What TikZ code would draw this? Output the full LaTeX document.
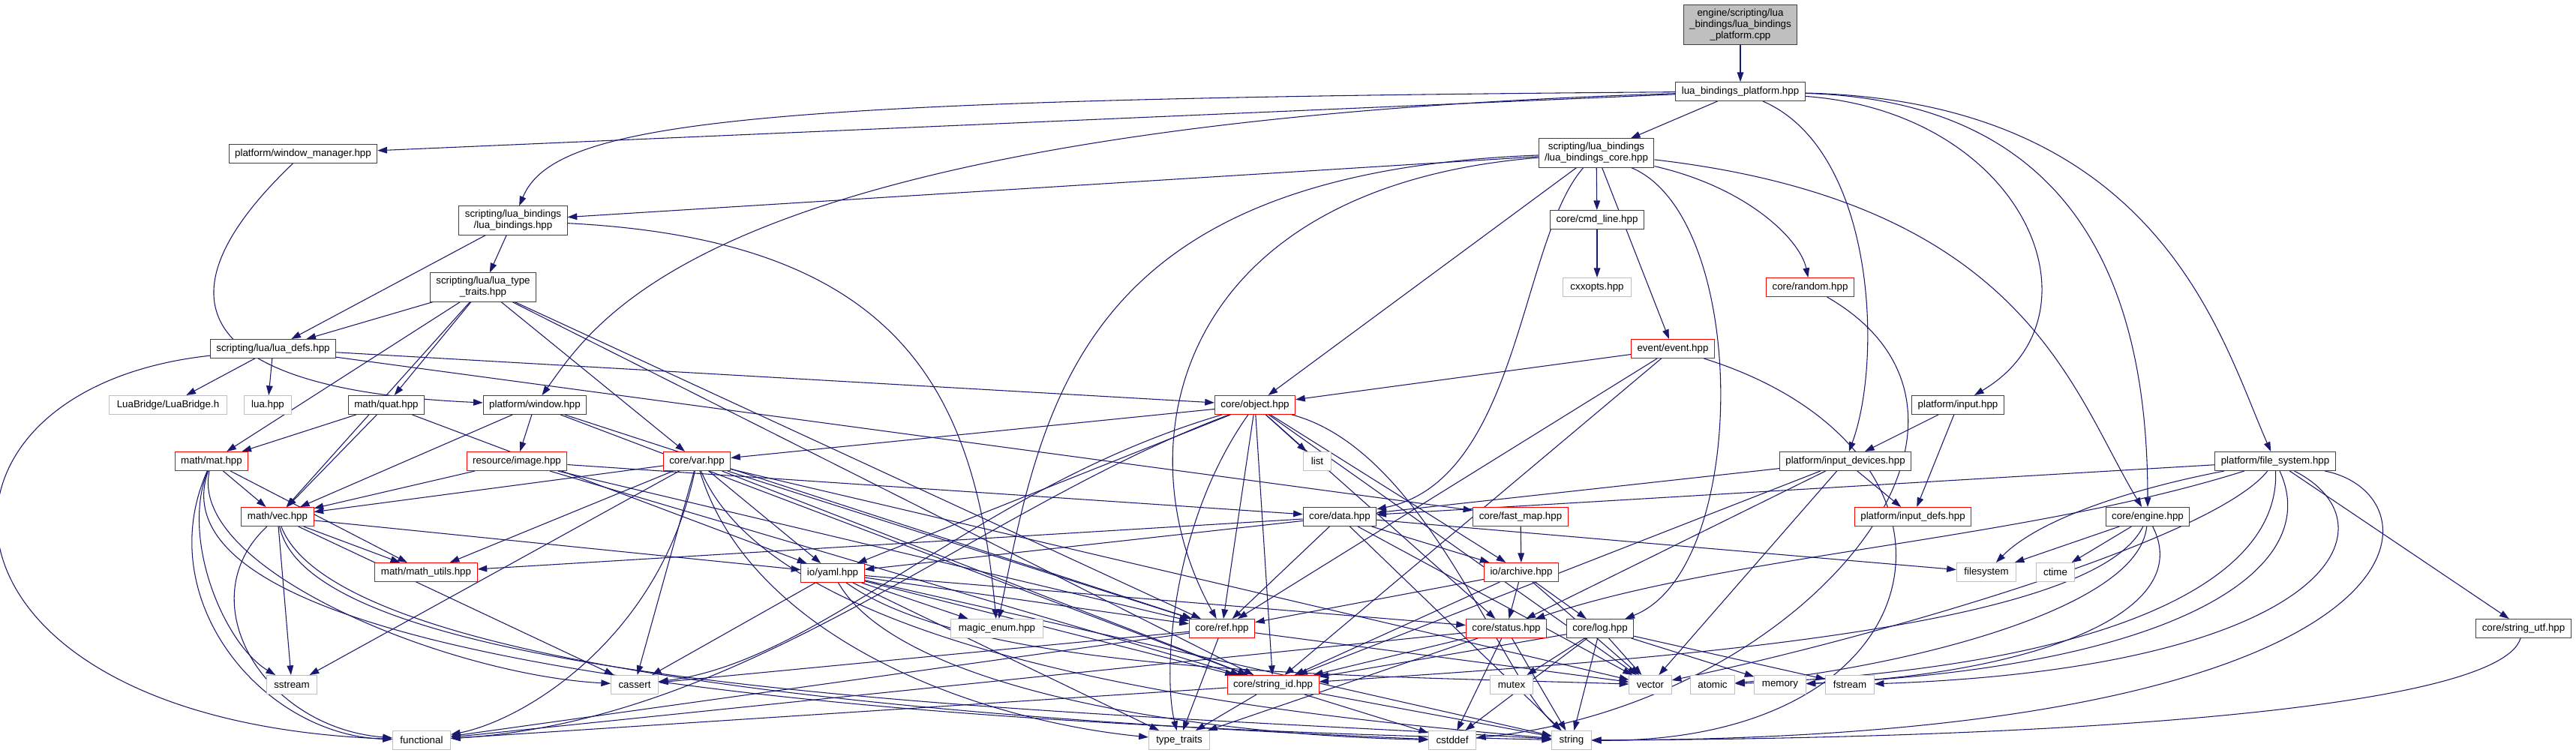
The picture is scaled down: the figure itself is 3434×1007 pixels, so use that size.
\documentclass[tikz,border=0pt]{standalone}
\usepackage{fontspec}
\setmainfont{Liberation Sans}
\usetikzlibrary{arrows.meta}
\definecolor{edgeblue}{HTML}{191970}
\definecolor{boxgrey}{HTML}{BFBFBF}
\definecolor{boxdark}{HTML}{404040}
\pgfdeclarelayer{bg}
\pgfsetlayers{bg,main}

\begin{document}
\begin{tikzpicture}[x=0.75pt,y=-0.75pt,
  hdr/.style={draw=boxdark,fill=white,line width=0.75pt,inner xsep=6pt,inner ysep=4pt,
    minimum height=18.75pt,font=\fontsize{10}{11.3}\selectfont,align=center},
  hdrred/.style={hdr,draw=red},
  hdrsys/.style={hdr,draw=boxgrey,inner xsep=7.5pt},
  hdrmain/.style={hdr,fill=boxgrey},
  inc/.style={draw=edgeblue,line width=0.8pt,-{Triangle[length=9.5pt,width=6.5pt]}}]
\useasboundingbox (0,0) rectangle (3434,1007);

\node[hdrmain] (root) at (2320,33) {engine/scripting/lua\\\_bindings/lua\_bindings\\\_platform.cpp};
\node[hdr] (lbp) at (2320,122) {lua\_bindings\_platform.hpp};
\node[hdr] (wm) at (404,205) {platform/window\_manager.hpp};
\node[hdr] (lb) at (684,294) {scripting/lua\_bindings\\/lua\_bindings.hpp};
\node[hdr] (lbc) at (2128,204) {scripting/lua\_bindings\\/lua\_bindings\_core.hpp};
\node[hdr] (cmd) at (2129,293) {core/cmd\_line.hpp};
\node[hdrsys] (cxx) at (2129,383) {cxxopts.hpp};
\node[hdrred] (event) at (2230,465) {event/event.hpp};
\node[hdrred] (random) at (2413,383) {core/random.hpp};
\node[hdr] (input) at (2610,540) {platform/input.hpp};
\node[hdr] (indev) at (2460,615) {platform/input\_devices.hpp};
\node[hdr] (fs) at (3033,615) {platform/file\_system.hpp};
\node[hdr] (ltt) at (644,383) {scripting/lua/lua\_type\\\_traits.hpp};
\node[hdr] (ldefs) at (364,465) {scripting/lua/lua\_defs.hpp};
\node[hdrsys] (bridge) at (224,540) {LuaBridge/LuaBridge.h};
\node[hdrsys] (luah) at (357,540) {lua.hpp};
\node[hdr] (quat) at (515,540) {math/quat.hpp};
\node[hdr] (win) at (713,540) {platform/window.hpp};
\node[hdrred] (mat) at (282,615) {math/mat.hpp};
\node[hdrred] (image) at (689,615) {resource/image.hpp};
\node[hdrred] (var) at (929,615) {core/var.hpp};
\node[hdrred] (object) at (1673,540) {core/object.hpp};
\node[hdrsys] (list) at (1756,615) {list};
\node[hdrred] (vec) at (370,689) {math/vec.hpp};
\node[hdrred] (mutils) at (568,763) {math/math\_utils.hpp};
\node[hdrred] (yaml) at (1110,764) {io/yaml.hpp};
\node[hdrsys] (sstream) at (389,913) {sstream};
\node[hdrsys] (cassert) at (846,913) {cassert};
\node[hdrsys] (functional) at (562,987) {functional};
\node[hdr] (data) at (1786,689) {core/data.hpp};
\node[hdrred] (fmap) at (2027,689) {core/fast\_map.hpp};
\node[hdrred] (archive) at (2028,763) {io/archive.hpp};
\node[hdrsys] (menum) at (1329,838) {magic\_enum.hpp};
\node[hdrred] (ref) at (1629,838) {core/ref.hpp};
\node[hdrred] (status) at (2008,838) {core/status.hpp};
\node[hdr] (log) at (2133,838) {core/log.hpp};
\node[hdrred] (sid) at (1697,913) {core/string\_id.hpp};
\node[hdrsys] (mutex) at (2015,913) {mutex};
\node[hdrsys] (vector) at (2200,913) {vector};
\node[hdrsys] (atomic) at (2283,913) {atomic};
\node[hdrsys] (memory) at (2373,913) {memory};
\node[hdrsys] (fstream) at (2466,913) {fstream};
\node[hdrsys] (ttraits) at (1572,987) {type\_traits};
\node[hdrsys] (cstddef) at (1936,987) {cstddef};
\node[hdrsys] (string) at (2095,987) {string};
\node[hdrred] (indefs) at (2550,689) {platform/input\_defs.hpp};
\node[hdr] (engine) at (2863,689) {core/engine.hpp};
\node[hdrsys] (filesys) at (2648,763) {filesystem};
\node[hdrsys] (ctime) at (2740,763) {ctime};
\node[hdr] (sutf) at (3364,838) {core/string\_utf.hpp};

\begin{pgfonlayer}{bg}
\fill[white] (0,0) rectangle (3434,1007);
\draw[inc] (root) -- (lbp);
\foreach \t in {wm,lbc} \draw[inc] (lbp) -- (\t);
\draw[inc] (lbp) .. controls (1000,132) and (740,160) .. (lb);
\draw[inc] (lbp) .. controls (950,165) and (800,420) .. (win);
\draw[inc] (lbp) .. controls (2500,200) and (2510,480) .. (indev);
\draw[inc] (lbp) .. controls (2700,150) and (2812,420) .. (input);
\draw[inc] (lbp) .. controls (2780,135) and (2863,400) .. (engine);
\draw[inc] (lbp) .. controls (2880,135) and (2960,450) .. (fs);
\draw[inc] (wm) .. controls (200,400) and (260,520) .. (win);
\foreach \t in {lb,cmd,event,object} \draw[inc] (lbc) -- (\t);
\draw[inc] (lbc) .. controls (1450,230) and (1392,520) .. (menum);
\draw[inc] (lbc) .. controls (1560,250) and (1495,600) .. (ref);
\draw[inc] (lbc) .. controls (2026,320) and (2026,640) .. (data);
\draw[inc] (lbc) .. controls (2333,290) and (2333,760) .. (log);
\draw[inc] (lbc) .. controls (2700,270) and (2761,520) .. (engine);
\draw[inc] (lbc) .. controls (2330,250) and (2400,320) .. (random);
\draw[inc] (cmd) -- (cxx);
\foreach \t in {ldefs,ltt} \draw[inc] (lb) -- (\t);
\draw[inc] (lb) .. controls (1200,320) and (1300,520) .. (menum);
\foreach \t in {bridge,luah,object,fmap} \draw[inc] (ldefs) -- (\t);
\draw[inc] (ldefs) .. controls (-140,520) and (-120,960) .. (functional);
\foreach \t in {ldefs,quat,mat,vec,var,ref,sid} \draw[inc] (ltt) -- (\t);
\foreach \t in {mat,vec,yaml} \draw[inc] (quat) -- (\t);
\foreach \t in {vec,image,ref,sid} \draw[inc] (win) -- (\t);
\foreach \t in {vec,data,ref,sid} \draw[inc] (image) -- (\t);
\foreach \t in {vec,mutils} \draw[inc] (mat) -- (\t);
\draw[inc] (mat) .. controls (240,720) and (300,860) .. (sstream);
\draw[inc] (mat) .. controls (250,760) and (600,900) .. (cassert);
\draw[inc] (mat) .. controls (200,800) and (350,980) .. (functional);
\draw[inc] (mat) .. controls (200,850) and (900,960) .. (string);
\foreach \t in {mutils,yaml,sstream,cassert} \draw[inc] (vec) -- (\t);
\draw[inc] (vec) .. controls (250,800) and (350,970) .. (functional);
\draw[inc] (vec) .. controls (420,930) and (1500,950) .. (string);
\draw[inc] (vec) .. controls (450,900) and (1300,960) .. (cstddef);
\foreach \t in {yaml,vec,mutils,sstream,cassert,ref,sid,vector} \draw[inc] (var) -- (\t);
\draw[inc] (var) .. controls (880,850) and (700,960) .. (functional);
\draw[inc] (var) .. controls (1050,900) and (1800,960) .. (string);
\draw[inc] (var) .. controls (1000,850) and (1300,960) .. (ttraits);
\foreach \t in {list,var,yaml,ref,sid,status,archive,vector} \draw[inc] (object) -- (\t);
\draw[inc] (object) .. controls (1900,600) and (2000,900) .. (string);
\draw[inc] (object) .. controls (1560,700) and (1550,900) .. (ttraits);
\draw[inc] (object) .. controls (1300,650) and (1100,880) .. (cassert);
\draw[inc] (object) .. controls (1300,680) and (1000,960) .. (functional);
\foreach \t in {yaml,mutils,ref,archive,filesys,vector,string} \draw[inc] (data) -- (\t);
\draw[inc] (fmap) -- (archive);
\foreach \t in {ref,status,log,sid,vector} \draw[inc] (archive) -- (\t);
\foreach \t in {cassert,menum,ref,status,sid,string,ttraits} \draw[inc] (yaml) -- (\t);
\draw[inc] (yaml) .. controls (1300,900) and (1800,900) .. (vector);
\draw[inc] (yaml) .. controls (1200,920) and (1600,980) .. (cstddef);
\foreach \t in {ttraits,cassert,vector,functional} \draw[inc] (ref) -- (\t);
\foreach \t in {sid,ttraits,cstddef,string,functional} \draw[inc] (status) -- (\t);
\foreach \t in {sid,mutex,vector,string,cstddef,fstream,memory} \draw[inc] (log) -- (\t);
\foreach \t in {ttraits,cstddef,string,functional} \draw[inc] (sid) -- (\t);
\foreach \t in {object,ref,sid} \draw[inc] (event) -- (\t);
\draw[inc] (event) .. controls (2660,600) and (2600,990) .. (string);
\draw[inc] (random) .. controls (2720,560) and (2400,940) .. (cstddef);
\foreach \t in {indev,indefs} \draw[inc] (input) -- (\t);
\foreach \t in {data,indefs,vector,status,sid} \draw[inc] (indev) -- (\t);
\foreach \t in {data,sutf} \draw[inc] (fs) -- (\t);
\draw[inc] (fs) .. controls (3262,660) and (3262,985) .. (string);
\draw[inc] (fs) .. controls (3200,700) and (3110,890) .. (fstream);
\draw[inc] (fs) .. controls (3100,760) and (2900,890) .. (memory);
\draw[inc] (fs) .. controls (3040,780) and (2800,890) .. (atomic);
\draw[inc] (fs) .. controls (2950,720) and (2500,850) .. (vector);
\draw[inc] (fs) .. controls (2850,650) and (2720,690) .. (filesys);
\draw[inc] (fs) .. controls (2700,720) and (2300,740) .. (status);
\foreach \t in {filesys,ctime} \draw[inc] (engine) -- (\t);
\draw[inc] (engine) .. controls (2850,820) and (2500,895) .. (atomic);
\draw[inc] (engine) .. controls (2930,820) and (2700,900) .. (memory);
\draw[inc] (engine) .. controls (2790,840) and (2200,880) .. (sid);
\draw[inc] (sutf) .. controls (3330,950) and (2700,985) .. (string);
\end{pgfonlayer}
\end{tikzpicture}
\end{document}
